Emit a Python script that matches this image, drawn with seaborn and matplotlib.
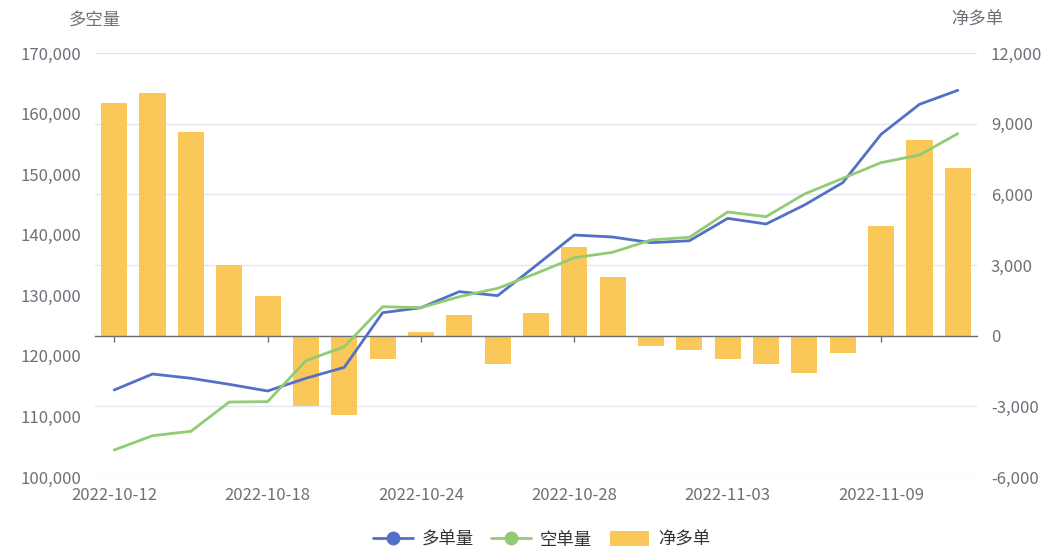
import numpy as np
import pandas as pd
import matplotlib
matplotlib.use("Agg")
import matplotlib.pyplot as plt
from matplotlib.lines import Line2D
from matplotlib.patches import Patch
import seaborn as sns

dates = ["2022-10-12", "2022-10-13", "2022-10-14", "2022-10-17", "2022-10-18",
         "2022-10-19", "2022-10-20", "2022-10-21", "2022-10-24", "2022-10-25",
         "2022-10-26", "2022-10-27", "2022-10-28", "2022-10-31", "2022-11-01",
         "2022-11-02", "2022-11-03", "2022-11-04", "2022-11-07", "2022-11-08",
         "2022-11-09", "2022-11-10", "2022-11-11"]
long_vol = [114360, 117000, 116300, 115300, 114200, 116300, 118100, 127130, 127950,
            130600, 129940, 134900, 139950, 139620, 138690, 139000, 142700, 141770,
            144900, 148600, 156580, 161530, 163840]
short_vol = [104460, 106820, 107540, 112380, 112440, 119200, 121520, 128120, 127950,
             129770, 131150, 133600, 136200, 137100, 139130, 139580, 143750, 142980,
             146720, 149310, 151900, 153160, 156690]
net_long = [9880, 10290, 8650, 3010, 1670, -2970, -3350, -980, 170, 890, -1200, 960,
            3750, 2500, -450, -590, -990, -1190, -1590, -720, 4670, 8310, 7120]
left_ticks = [100000, 110000, 120000, 130000, 140000, 150000, 160000, 170000]
right_ticks = [-6000, -3000, 0, 3000, 6000, 9000, 12000]
label_idx = [0, 4, 8, 12, 16, 20]

names = ["多单量", "空单量", "净多单"]
C_BLUE, C_GREEN, C_YEL = "#5470C6", "#91CC75", "#FAC858"
C_TXT, C_GRID, C_AX = "#6E7079", "#E0E6F1", "#6E7079"

sns.set_style("white")
plt.rcParams["font.family"] = ["Noto Sans CJK SC", "DejaVu Sans"]

df = pd.DataFrame({"date": dates, "pos": np.arange(len(dates)),
                   "long": long_vol, "short": short_vol, "net": net_long})

fig = plt.figure(figsize=(10.5, 5.49), dpi=100)
ax = fig.add_axes([95/1050, 1-477/549, (977-95)/1050, (477-53)/549])
ax2 = ax.twinx()

sns.barplot(data=df, x="date", y="net", ax=ax2, color=C_YEL, saturation=1,
            width=0.68, order=dates, errorbar=None, edgecolor="none")
sns.lineplot(data=df, x="pos", y="long", ax=ax, color=C_BLUE, lw=2)
sns.lineplot(data=df, x="pos", y="short", ax=ax, color=C_GREEN, lw=2)

ax.set_zorder(ax2.get_zorder() + 1)
ax.patch.set_visible(False)

ax.set_xlim(-0.5, len(dates) - 0.5)
ax.set_ylim(left_ticks[0], left_ticks[-1])
ax2.set_ylim(right_ticks[0], right_ticks[-1])

ax.set_yticks(left_ticks, [f"{v:,}" for v in left_ticks])
ax2.set_yticks(right_ticks, [f"{v:,}" for v in right_ticks])
ax.set_xticks(label_idx, [dates[i] for i in label_idx])

ax2.grid(axis="y", color=C_GRID, lw=1)
ax2.grid(axis="x", visible=False)
ax.grid(False)
ax2.set_axisbelow(True)

for a in (ax, ax2):
    for s in a.spines.values():
        s.set_visible(False)
    a.set_xlabel("")
    a.set_ylabel("")

ax2.xaxis.set_visible(True)
ax2.spines["bottom"].set_visible(True)
ax2.spines["bottom"].set_position(("data", 0))
ax2.spines["bottom"].set_color(C_AX)
ax2.spines["bottom"].set_linewidth(1)
ax2.tick_params(axis="x", bottom=True, top=False, labelbottom=False, labeltop=False,
                length=4, width=1, color=C_AX, direction="out")
ax.tick_params(axis="x", bottom=True, length=0, labelsize=12, labelcolor=C_TXT, pad=7)
ax.tick_params(axis="y", length=0, labelsize=12, labelcolor=C_TXT, pad=10)
ax2.tick_params(axis="y", length=0, labelsize=12, labelcolor=C_TXT, pad=10)

fig.text(95/1050, 1-20/549, "多空量", ha="center", va="center", fontsize=12.5, color=C_TXT)
fig.text(977/1050, 1-20/549, "净多单", ha="center", va="center", fontsize=12.5, color=C_TXT)

handles = [
    Line2D([], [], color=C_BLUE, lw=2, marker="o", markersize=9),
    Line2D([], [], color=C_GREEN, lw=2, marker="o", markersize=9),
    Patch(facecolor=C_YEL, edgecolor="none"),
]
leg = fig.legend(handles, names, loc="center", bbox_to_anchor=(0.516, 0.017), ncol=3,
                 frameon=False, fontsize=12.5, handlelength=2.3, handleheight=1.0,
                 columnspacing=1.0, handletextpad=0.5, labelcolor="#333333")

fig.savefig("out.png", dpi=100, facecolor="white")
